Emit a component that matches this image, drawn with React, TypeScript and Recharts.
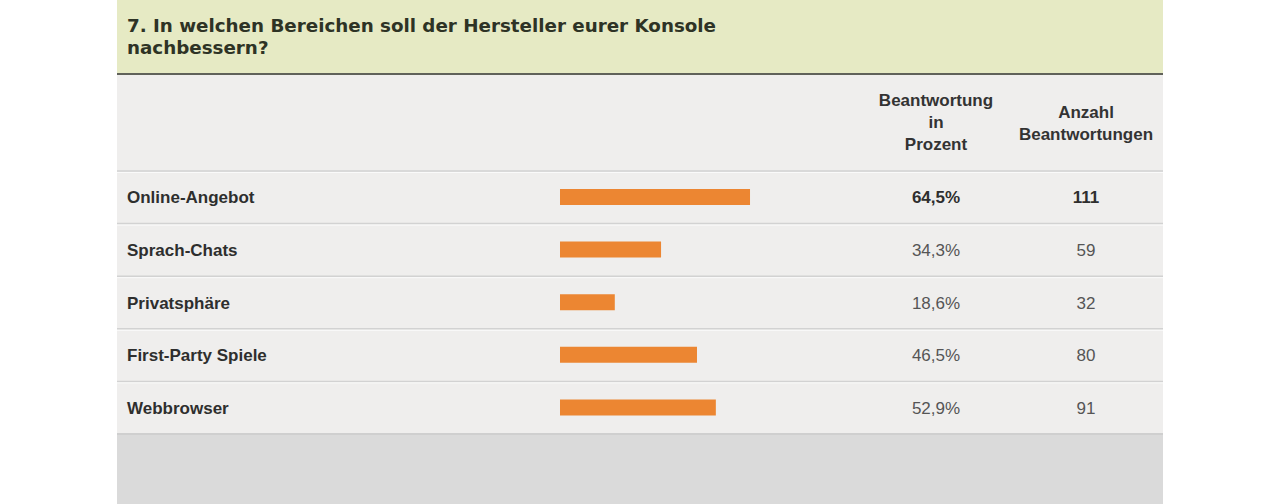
import React from 'react';
import { BarChart, Bar, XAxis, YAxis, LabelList } from 'recharts';

const title = ['7. In welchen Bereichen soll der Hersteller eurer Konsole', 'nachbessern?'];
const headerPercent = ['Beantwortung', 'in', 'Prozent'];
const headerCount = ['Anzahl', 'Beantwortungen'];
const categories = ['Online-Angebot', 'Sprach-Chats', 'Privatsphäre', 'First-Party Spiele', 'Webbrowser'];
const percentLabels = ['64,5%', '34,3%', '18,6%', '46,5%', '52,9%'];
const percents = [64.5, 34.3, 18.6, 46.5, 52.9];
const counts = [111, 59, 32, 80, 91];

const data = categories.map((name, i) => ({
  name,
  value: percents[i],
  pct: percentLabels[i],
  count: counts[i],
}));
const maxCount = Math.max(...counts);

const FONT = '"Liberation Sans", Arial, sans-serif';
const TITLE_FONT = '"DejaVu Sans", Verdana, sans-serif';
const PANEL_L = 117;
const PANEL_R = 1163;
const TOP = 171;
const BOTTOM = 434;
const ROW_H = (BOTTOM - TOP) / categories.length;

const RowTick = (props: any) => {
  const { y, payload, index } = props;
  const d = data[index];
  const bold = d.count === maxCount;
  const top = y - ROW_H / 2;
  return (
    <g>
      <line x1={PANEL_L} x2={PANEL_R} y1={top} y2={top} stroke="#d2d2d2" strokeWidth={1.5} />
      <line x1={PANEL_L} x2={PANEL_R} y1={top + 1.5} y2={top + 1.5} stroke="#fafafa" strokeWidth={1} />
      <text x={127} y={y} dy="0.36em" fontFamily={FONT} fontSize={17} fontWeight="bold" fill="#2e2e2e">
        {payload.value}
      </text>
      <text x={936} y={y} dy="0.36em" textAnchor="middle" fontFamily={FONT} fontSize={17} fontWeight={bold ? 'bold' : 'normal'} fill={bold ? '#2e2e2e' : '#555'}>
        {d.pct}
      </text>
      <text x={1086} y={y} dy="0.36em" textAnchor="middle" fontFamily={FONT} fontSize={17} fontWeight={bold ? 'bold' : 'normal'} fill={bold ? '#2e2e2e' : '#555'}>
        {d.count}
      </text>
    </g>
  );
};

export default function App() {
  return (
    <div style={{ position: 'fixed', left: 0, top: 0, width: 1280, height: 504, background: '#fff', overflow: 'hidden' }}>
      <div style={{ position: 'absolute', left: PANEL_L, width: PANEL_R - PANEL_L, top: 0, height: 74, background: '#e6eac4' }} />
      <div style={{ position: 'absolute', left: PANEL_L, width: PANEL_R - PANEL_L, top: 73, height: 2, background: '#60625a' }} />
      <div style={{ position: 'absolute', left: PANEL_L, width: PANEL_R - PANEL_L, top: 75, height: BOTTOM - 75, background: '#efeeed' }} />
      <div style={{ position: 'absolute', left: PANEL_L, width: PANEL_R - PANEL_L, top: BOTTOM, height: 504 - BOTTOM, background: '#dadada' }} />
      <div style={{ position: 'absolute', left: PANEL_L, width: PANEL_R - PANEL_L, top: BOTTOM - 1, height: 2, background: '#cfcfcf' }} />
      <div style={{ position: 'absolute', left: 127, top: 15, fontFamily: TITLE_FONT, fontSize: 18.3, fontWeight: 'bold', color: '#2e3325', lineHeight: '22px', whiteSpace: 'nowrap' }}>
        {title.map((t, i) => <div key={i}>{t}</div>)}
      </div>
      <div style={{ position: 'absolute', left: 856, width: 160, top: 90, fontFamily: FONT, fontSize: 17, fontWeight: 'bold', color: '#333', lineHeight: '22px', textAlign: 'center' }}>
        {headerPercent.map((t, i) => <div key={i}>{t}</div>)}
      </div>
      <div style={{ position: 'absolute', left: 1006, width: 160, top: 102, fontFamily: FONT, fontSize: 17, fontWeight: 'bold', color: '#333', lineHeight: '22px', textAlign: 'center' }}>
        {headerCount.map((t, i) => <div key={i}>{t}</div>)}
      </div>
      <div style={{ position: 'absolute', left: 0, top: 0 }}>
        <BarChart
          width={1280}
          height={504}
          data={data}
          layout="vertical"
          margin={{ top: TOP, bottom: 504 - BOTTOM, left: 0, right: 1280 - 560 - 294.6 }}
          barSize={16}
        >
          <XAxis type="number" domain={[0, 100]} hide />
          <YAxis type="category" dataKey="name" width={560} axisLine={false} tickLine={false} tick={<RowTick />} interval={0} />
          <Bar dataKey="value" fill="#ec8632" isAnimationActive={false}>
            <LabelList dataKey="value" content={() => null} />
          </Bar>
        </BarChart>
      </div>
    </div>
  );
}
